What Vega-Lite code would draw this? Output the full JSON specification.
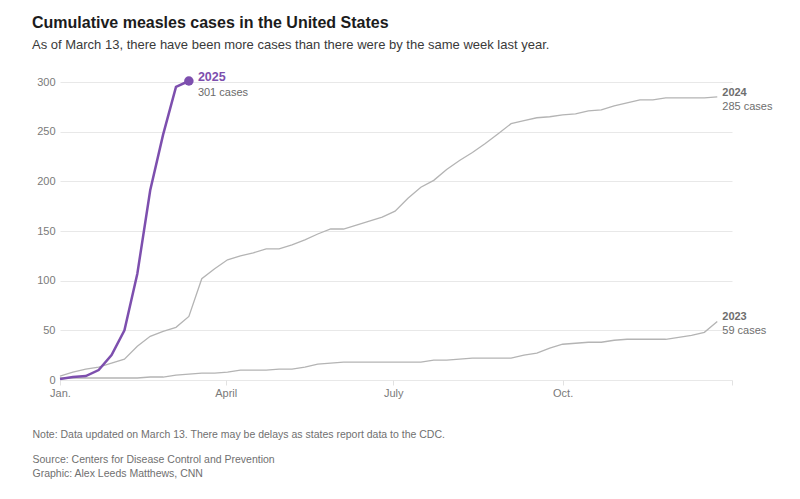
{
  "$schema": "https://vega.github.io/schema/vega-lite/v6.json",
  "width": 672,
  "height": 298,
  "autosize": {"type": "none"},
  "padding": {"left": 60, "top": 82, "right": 68, "bottom": 119},
  "background": "white",
  "config": {
    "view": {"stroke": null},
    "font": "Liberation Sans"
  },
  "title": {
    "text": "Cumulative measles cases in the United States",
    "subtitle": "As of March 13, there have been more cases than there were by the same week last year.",
    "anchor": "start",
    "frame": "group",
    "dx": -28,
    "offset": 19,
    "font": "Liberation Sans",
    "fontSize": 16,
    "fontWeight": "bold",
    "color": "#1c1c1c",
    "subtitleFont": "Liberation Sans",
    "subtitleFontSize": 13,
    "subtitleColor": "#3a3a3a",
    "subtitlePadding": 8
  },
  "datasets": {
    "cases": [
      {"year": "2025", "day": 0, "cases": 1},
      {"year": "2025", "day": 7, "cases": 3},
      {"year": "2025", "day": 14, "cases": 4},
      {"year": "2025", "day": 21, "cases": 10},
      {"year": "2025", "day": 28, "cases": 25},
      {"year": "2025", "day": 35, "cases": 50},
      {"year": "2025", "day": 42, "cases": 107},
      {"year": "2025", "day": 49, "cases": 191},
      {"year": "2025", "day": 56, "cases": 247},
      {"year": "2025", "day": 63, "cases": 295},
      {"year": "2025", "day": 70, "cases": 301},
      {"year": "2024", "day": 0, "cases": 4},
      {"year": "2024", "day": 7, "cases": 8},
      {"year": "2024", "day": 14, "cases": 11},
      {"year": "2024", "day": 21, "cases": 13},
      {"year": "2024", "day": 28, "cases": 17},
      {"year": "2024", "day": 35, "cases": 21},
      {"year": "2024", "day": 42, "cases": 34},
      {"year": "2024", "day": 49, "cases": 44},
      {"year": "2024", "day": 56, "cases": 49},
      {"year": "2024", "day": 63, "cases": 53},
      {"year": "2024", "day": 70, "cases": 64},
      {"year": "2024", "day": 77, "cases": 102},
      {"year": "2024", "day": 84, "cases": 112},
      {"year": "2024", "day": 91, "cases": 121},
      {"year": "2024", "day": 98, "cases": 125},
      {"year": "2024", "day": 105, "cases": 128},
      {"year": "2024", "day": 112, "cases": 132},
      {"year": "2024", "day": 119, "cases": 132},
      {"year": "2024", "day": 126, "cases": 136},
      {"year": "2024", "day": 133, "cases": 141},
      {"year": "2024", "day": 140, "cases": 147},
      {"year": "2024", "day": 147, "cases": 152},
      {"year": "2024", "day": 154, "cases": 152},
      {"year": "2024", "day": 161, "cases": 156},
      {"year": "2024", "day": 168, "cases": 160},
      {"year": "2024", "day": 175, "cases": 164},
      {"year": "2024", "day": 182, "cases": 170},
      {"year": "2024", "day": 189, "cases": 183},
      {"year": "2024", "day": 196, "cases": 194},
      {"year": "2024", "day": 203, "cases": 201},
      {"year": "2024", "day": 210, "cases": 212},
      {"year": "2024", "day": 217, "cases": 221},
      {"year": "2024", "day": 224, "cases": 229},
      {"year": "2024", "day": 231, "cases": 238},
      {"year": "2024", "day": 238, "cases": 248},
      {"year": "2024", "day": 245, "cases": 258},
      {"year": "2024", "day": 252, "cases": 261},
      {"year": "2024", "day": 259, "cases": 264},
      {"year": "2024", "day": 266, "cases": 265},
      {"year": "2024", "day": 273, "cases": 267},
      {"year": "2024", "day": 280, "cases": 268},
      {"year": "2024", "day": 287, "cases": 271},
      {"year": "2024", "day": 294, "cases": 272},
      {"year": "2024", "day": 301, "cases": 276},
      {"year": "2024", "day": 308, "cases": 279},
      {"year": "2024", "day": 315, "cases": 282},
      {"year": "2024", "day": 322, "cases": 282},
      {"year": "2024", "day": 329, "cases": 284},
      {"year": "2024", "day": 336, "cases": 284},
      {"year": "2024", "day": 343, "cases": 284},
      {"year": "2024", "day": 350, "cases": 284},
      {"year": "2024", "day": 357, "cases": 285},
      {"year": "2023", "day": 0, "cases": 2},
      {"year": "2023", "day": 7, "cases": 2},
      {"year": "2023", "day": 14, "cases": 2},
      {"year": "2023", "day": 21, "cases": 2},
      {"year": "2023", "day": 28, "cases": 2},
      {"year": "2023", "day": 35, "cases": 2},
      {"year": "2023", "day": 42, "cases": 2},
      {"year": "2023", "day": 49, "cases": 3},
      {"year": "2023", "day": 56, "cases": 3},
      {"year": "2023", "day": 63, "cases": 5},
      {"year": "2023", "day": 70, "cases": 6},
      {"year": "2023", "day": 77, "cases": 7},
      {"year": "2023", "day": 84, "cases": 7},
      {"year": "2023", "day": 91, "cases": 8},
      {"year": "2023", "day": 98, "cases": 10},
      {"year": "2023", "day": 105, "cases": 10},
      {"year": "2023", "day": 112, "cases": 10},
      {"year": "2023", "day": 119, "cases": 11},
      {"year": "2023", "day": 126, "cases": 11},
      {"year": "2023", "day": 133, "cases": 13},
      {"year": "2023", "day": 140, "cases": 16},
      {"year": "2023", "day": 147, "cases": 17},
      {"year": "2023", "day": 154, "cases": 18},
      {"year": "2023", "day": 161, "cases": 18},
      {"year": "2023", "day": 168, "cases": 18},
      {"year": "2023", "day": 175, "cases": 18},
      {"year": "2023", "day": 182, "cases": 18},
      {"year": "2023", "day": 189, "cases": 18},
      {"year": "2023", "day": 196, "cases": 18},
      {"year": "2023", "day": 203, "cases": 20},
      {"year": "2023", "day": 210, "cases": 20},
      {"year": "2023", "day": 217, "cases": 21},
      {"year": "2023", "day": 224, "cases": 22},
      {"year": "2023", "day": 231, "cases": 22},
      {"year": "2023", "day": 238, "cases": 22},
      {"year": "2023", "day": 245, "cases": 22},
      {"year": "2023", "day": 252, "cases": 25},
      {"year": "2023", "day": 259, "cases": 27},
      {"year": "2023", "day": 266, "cases": 32},
      {"year": "2023", "day": 273, "cases": 36},
      {"year": "2023", "day": 280, "cases": 37},
      {"year": "2023", "day": 287, "cases": 38},
      {"year": "2023", "day": 294, "cases": 38},
      {"year": "2023", "day": 301, "cases": 40},
      {"year": "2023", "day": 308, "cases": 41},
      {"year": "2023", "day": 315, "cases": 41},
      {"year": "2023", "day": 322, "cases": 41},
      {"year": "2023", "day": 329, "cases": 41},
      {"year": "2023", "day": 336, "cases": 43},
      {"year": "2023", "day": 343, "cases": 45},
      {"year": "2023", "day": 350, "cases": 48},
      {"year": "2023", "day": 357, "cases": 59}
    ],
    "labels": [
      {"year": "2025", "day": 70, "cases": 301, "head": "2025", "sub": "301 cases"},
      {"year": "2024", "day": 357, "cases": 285, "head": "2024", "sub": "285 cases"},
      {"year": "2023", "day": 357, "cases": 59, "head": "2023", "sub": "59 cases"}
    ]
  },
  "layer": [
    {
      "data": {"name": "cases"},
      "transform": [{"filter": "datum.year !== '2025'"}],
      "mark": {"type": "line", "color": "#b4b4b4", "strokeWidth": 1.3},
      "encoding": {
        "x": {
          "field": "day",
          "type": "quantitative",
          "scale": {"domain": [0, 365], "nice": false, "zero": false},
          "axis": {
            "values": [0, 90, 181, 273, 365],
            "labelExpr": "datum.value == 0 ? 'Jan.' : datum.value == 90 ? 'April' : datum.value == 181 ? 'July' : datum.value == 273 ? 'Oct.' : ''",
            "labelFlush": false,
            "grid": false,
            "domain": false,
            "ticks": true,
            "tickSize": 5,
            "tickColor": "#e2e2e2",
            "labelPadding": 2,
            "labelFontSize": 11,
            "labelColor": "#7a7a7a",
            "labelFont": "Liberation Sans",
            "title": "Note: Data updated on March 13. There may be delays as states report data to the CDC.",
            "titleFont": "Liberation Sans",
            "titleFontSize": 10.5,
            "titleFontWeight": "normal",
            "titleColor": "#707070",
            "titleAnchor": "start",
            "titleAlign": "left",
            "titleBaseline": "top",
            "titleX": -28,
            "titleY": 49
          }
        },
        "y": {
          "field": "cases",
          "type": "quantitative",
          "scale": {"domain": [0, 300], "nice": false},
          "axis": {
            "values": [0, 50, 100, 150, 200, 250, 300],
            "grid": true,
            "gridColor": "#e8e8e8",
            "domain": false,
            "ticks": false,
            "labelPadding": 5,
            "labelFontSize": 11,
            "labelColor": "#7a7a7a",
            "labelFont": "Liberation Sans",
            "title": ["Source: Centers for Disease Control and Prevention", "Graphic: Alex Leeds Matthews, CNN"],
            "titleFont": "Liberation Sans",
            "titleFontSize": 10.5,
            "titleFontWeight": "normal",
            "titleColor": "#707070",
            "titleAngle": 0,
            "titleAlign": "left",
            "titleBaseline": "top",
            "titleLineHeight": 14,
            "titleX": -28,
            "titleY": 372
          }
        },
        "detail": {"field": "year"}
      }
    },
    {
      "data": {"name": "cases"},
      "transform": [{"filter": "datum.year === '2025'"}],
      "mark": {"type": "line", "color": "#7d4fae", "strokeWidth": 2.5},
      "encoding": {
        "x": {"field": "day", "type": "quantitative"},
        "y": {"field": "cases", "type": "quantitative"}
      }
    },
    {
      "data": {"name": "labels"},
      "transform": [{"filter": "datum.year === '2025'"}],
      "mark": {"type": "point", "filled": true, "color": "#7d4fae", "size": 90, "opacity": 1},
      "encoding": {
        "x": {"field": "day", "type": "quantitative"},
        "y": {"field": "cases", "type": "quantitative"}
      }
    },
    {
      "data": {"name": "labels"},
      "transform": [{"filter": "datum.year === '2025'"}],
      "mark": {"type": "text", "align": "left", "baseline": "middle", "dx": 9, "dy": -4, "fontSize": 12.5, "fontWeight": "bold", "color": "#7d4fae", "font": "Liberation Sans"},
      "encoding": {
        "x": {"field": "day", "type": "quantitative"},
        "y": {"field": "cases", "type": "quantitative"},
        "text": {"field": "head"}
      }
    },
    {
      "data": {"name": "labels"},
      "transform": [{"filter": "datum.year === '2025'"}],
      "mark": {"type": "text", "align": "left", "baseline": "middle", "dx": 9, "dy": 12, "fontSize": 11, "color": "#6a6a6a", "font": "Liberation Sans"},
      "encoding": {
        "x": {"field": "day", "type": "quantitative"},
        "y": {"field": "cases", "type": "quantitative"},
        "text": {"field": "sub"}
      }
    },
    {
      "data": {"name": "labels"},
      "transform": [{"filter": "datum.year !== '2025'"}],
      "mark": {"type": "text", "align": "left", "baseline": "middle", "dx": 5, "dy": -4, "fontSize": 11, "fontWeight": "bold", "color": "#6e6e6e", "font": "Liberation Sans"},
      "encoding": {
        "x": {"field": "day", "type": "quantitative"},
        "y": {"field": "cases", "type": "quantitative"},
        "text": {"field": "head"}
      }
    },
    {
      "data": {"name": "labels"},
      "transform": [{"filter": "datum.year !== '2025'"}],
      "mark": {"type": "text", "align": "left", "baseline": "middle", "dx": 5, "dy": 10, "fontSize": 11, "color": "#6e6e6e", "font": "Liberation Sans"},
      "encoding": {
        "x": {"field": "day", "type": "quantitative"},
        "y": {"field": "cases", "type": "quantitative"},
        "text": {"field": "sub"}
      }
    }
  ]
}
